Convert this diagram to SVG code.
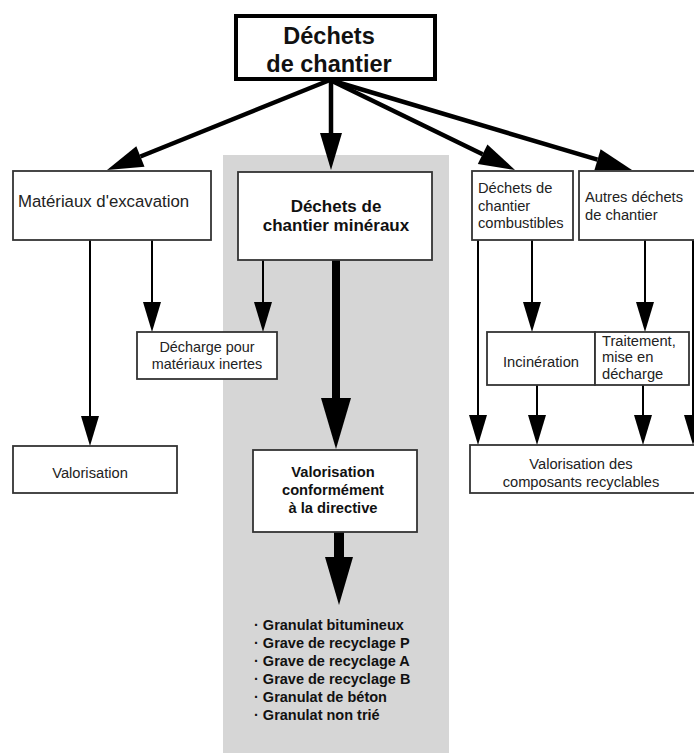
<svg xmlns="http://www.w3.org/2000/svg" width="694" height="753" viewBox="0 0 694 753">
<style>
.box{fill:#fff;stroke:#333;stroke-width:1.8}
.t{font-family:"Liberation Sans",Arial,sans-serif;fill:#222}
.b{font-weight:bold;fill:#111}
.ln{stroke:#000;fill:none}
.hd{fill:#000}
</style>
<rect x="0" y="0" width="694" height="753" fill="#fff"/>
<rect id="band" x="223" y="155" width="226" height="598" fill="#d6d6d6"/>
<g id="connectors">
  <line class="ln" x1="330" y1="80" x2="140.4" y2="156.5" stroke-width="4.5"/>
  <polygon class="hd" points="107,170 144.5,166.7 136.3,146.3"/>
  <line class="ln" x1="331" y1="80" x2="331" y2="134" stroke-width="4.5"/>
  <polygon class="hd" points="320,133 342,133 331,170"/>
  <line class="ln" x1="330" y1="80" x2="482.6" y2="154.3" stroke-width="4.5"/>
  <polygon class="hd" points="515,170 477.8,164.1 487.4,144.4"/>
  <line class="ln" x1="330" y1="80" x2="597.5" y2="159.7" stroke-width="4.5"/>
  <polygon class="hd" points="632,170 594.4,170.2 600.6,149.2"/>

  <line class="ln" x1="152" y1="240" x2="152" y2="303" stroke-width="2"/>
  <polygon class="hd" points="143,302 161,302 152,332"/>
  <line class="ln" x1="263" y1="260" x2="263" y2="303" stroke-width="2"/>
  <polygon class="hd" points="254,302 272,302 263,332"/>
  <line class="ln" x1="90" y1="240" x2="90" y2="417" stroke-width="2"/>
  <polygon class="hd" points="81,416 99,416 90,446"/>

  <line class="ln" x1="336" y1="260" x2="336" y2="399" stroke-width="8"/>
  <polygon class="hd" points="321,398 351,398 336,449"/>
  <line class="ln" x1="339" y1="532" x2="339" y2="558" stroke-width="10"/>
  <polygon class="hd" points="325,557 353,557 339,605"/>

  <line class="ln" x1="532" y1="240" x2="532" y2="303" stroke-width="2"/>
  <polygon class="hd" points="523,302 541,302 532,332"/>
  <line class="ln" x1="645" y1="240" x2="645" y2="303" stroke-width="2"/>
  <polygon class="hd" points="636,302 654,302 645,332"/>
  <line class="ln" x1="478" y1="240" x2="478" y2="416" stroke-width="2"/>
  <polygon class="hd" points="469,415 487,415 478,445"/>
  <line class="ln" x1="537" y1="385" x2="537" y2="416" stroke-width="2"/>
  <polygon class="hd" points="528,415 546,415 537,445"/>
  <line class="ln" x1="643" y1="385" x2="643" y2="416" stroke-width="2"/>
  <polygon class="hd" points="634,415 652,415 643,445"/>
  <line class="ln" x1="693" y1="240" x2="693" y2="416" stroke-width="2"/>
  <polygon class="hd" points="684,415 702,415 693,445"/>
</g>
<g id="n-top">
  <rect x="236" y="16" width="199" height="63" fill="#fff" stroke="#000" stroke-width="4"/>
  <text class="t b" x="329" y="44" font-size="23.5" text-anchor="middle" fill="#000">Déchets</text>
  <text class="t b" x="329" y="72" font-size="23.5" text-anchor="middle" fill="#000">de chantier</text>
</g>
<g id="n-excavation">
  <rect class="box" x="13" y="171" width="198" height="69"/>
  <text class="t" x="18" y="207" font-size="16.8">Matériaux d'excavation</text>
</g>
<g id="n-mineraux">
  <rect class="box" x="238" y="172" width="194" height="88"/>
  <text class="t b" x="336" y="212" font-size="17" text-anchor="middle">Déchets de</text>
  <text class="t b" x="336" y="231" font-size="17" text-anchor="middle">chantier minéraux</text>
</g>
<g id="n-decharge">
  <rect class="box" x="137" y="332" width="140" height="47"/>
  <text class="t" x="207" y="352" font-size="14.4" text-anchor="middle">Décharge pour</text>
  <text class="t" x="207" y="369" font-size="14.4" text-anchor="middle">matériaux inertes</text>
</g>
<g id="n-valorisation">
  <rect class="box" x="13" y="446" width="164" height="47"/>
  <text class="t" x="90" y="478" font-size="14.7" text-anchor="middle">Valorisation</text>
</g>
<g id="n-valor-directive">
  <rect class="box" x="253" y="450" width="164" height="82"/>
  <text class="t b" x="333" y="477" font-size="14.7" text-anchor="middle">Valorisation</text>
  <text class="t b" x="333" y="495" font-size="14.7" text-anchor="middle">conformément</text>
  <text class="t b" x="333" y="513" font-size="14.7" text-anchor="middle">à la directive</text>
</g>
<g id="n-liste">
  <text class="t b" x="254" y="630" font-size="14.5">· Granulat bitumineux</text>
  <text class="t b" x="254" y="648" font-size="14.5">· Grave de recyclage P</text>
  <text class="t b" x="254" y="666" font-size="14.5">· Grave de recyclage A</text>
  <text class="t b" x="254" y="684" font-size="14.5">· Grave de recyclage B</text>
  <text class="t b" x="254" y="702" font-size="14.5">· Granulat de béton</text>
  <text class="t b" x="254" y="720" font-size="14.5">· Granulat non trié</text>
</g>
<g id="n-combustibles">
  <rect class="box" x="472" y="171" width="101" height="69"/>
  <text class="t" x="478" y="193" font-size="14.7">Déchets de</text>
  <text class="t" x="478" y="211" font-size="14.7">chantier</text>
  <text class="t" x="478" y="228" font-size="14.7">combustibles</text>
</g>
<g id="n-autres">
  <rect class="box" x="579" y="171" width="125" height="69"/>
  <text class="t" x="585" y="202" font-size="14.7">Autres déchets</text>
  <text class="t" x="585" y="220" font-size="14.7">de chantier</text>
</g>
<g id="n-incineration">
  <rect class="box" x="487" y="332" width="108" height="53"/>
  <text class="t" x="541" y="367" font-size="14.7" text-anchor="middle">Incinération</text>
</g>
<g id="n-traitement">
  <rect class="box" x="595" y="332" width="94" height="53"/>
  <text class="t" x="602" y="346" font-size="14.7">Traitement,</text>
  <text class="t" x="602" y="362" font-size="14.7">mise en</text>
  <text class="t" x="602" y="379" font-size="14.7">décharge</text>
</g>
<g id="n-composants">
  <rect class="box" x="470" y="445" width="234" height="48"/>
  <text class="t" x="581" y="469" font-size="14.7" text-anchor="middle">Valorisation des</text>
  <text class="t" x="581" y="487" font-size="14.7" text-anchor="middle">composants recyclables</text>
</g>
</svg>
